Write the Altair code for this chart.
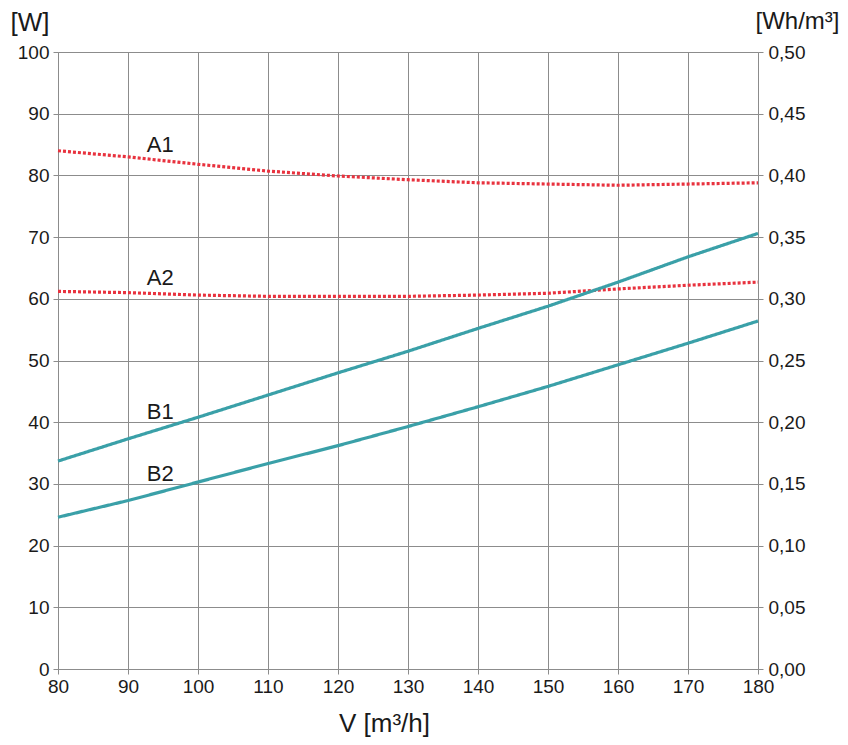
import altair as alt
import pandas as pd

xs = [80, 90, 100, 110, 120, 130, 140, 150, 160, 170, 180]
a1 = [84.0, 83.0, 81.8, 80.7, 79.9, 79.3, 78.8, 78.6, 78.4, 78.6, 78.8]
a2 = [61.2, 61.0, 60.6, 60.4, 60.4, 60.4, 60.6, 60.9, 61.6, 62.2, 62.7]
b1 = [33.7, 37.3, 40.8, 44.4, 48.0, 51.5, 55.2, 58.8, 62.7, 66.8, 70.6]
b2 = [24.6, 27.3, 30.3, 33.3, 36.2, 39.3, 42.5, 45.8, 49.3, 52.8, 56.4]

series_names = ["A1", "A2", "B1", "B2"]
series_vals = [a1, a2, b1, b2]
series_kind = ["A", "A", "B", "B"]

label_x = [94.6, 94.6, 94.6, 94.6]
label_y = [83.8, 62.2, 40.5, 30.5]

rows = []
for name, vals, kind in zip(series_names, series_vals, series_kind):
    for x, y in zip(xs, vals):
        rows.append({"series": name, "kind": kind, "x": x, "y": y})
df = pd.DataFrame(rows)
labels = pd.DataFrame({"series": series_names, "x": label_x, "y": label_y})
right_df = pd.DataFrame({"x": [80, 180], "y2": [0.0, 0.5]})

FONT = "Liberation Sans"
GRID = "#8c8c8c"

xscale = alt.Scale(domain=[80, 180], nice=False, zero=False)
xaxis = alt.Axis(values=xs, title="V [m³/h]", grid=True, gridColor=GRID, gridWidth=1,
                 domainColor=GRID, tickColor=GRID, tickSize=5, labelFont=FONT,
                 labelFontSize=19, labelColor="#1a1a1a", labelPadding=3, labelFlush=False,
                 titleFont=FONT, titleFontSize=26, titleFontWeight="normal",
                 titleColor="#1a1a1a", titleX=326, titleY=62, titleAlign="center",
                 titleBaseline="alphabetic", titleAnchor="start")

left_axis = alt.Axis(values=list(range(0, 101, 10)), title="[W]", grid=True,
                     gridColor=GRID, gridWidth=1, domainColor=GRID, tickColor=GRID,
                     tickSize=5, labelFont=FONT, labelFontSize=19, labelColor="#1a1a1a",
                     labelPadding=4, labelFlush=False, titleFont=FONT, titleFontSize=26,
                     titleFontWeight="normal", titleColor="#1a1a1a", titleAngle=0,
                     titleAlign="left", titleBaseline="top", titleX=-48, titleY=-43,
                     titleAnchor="start")

lines = alt.Chart(df).mark_line(strokeWidth=3.2, strokeCap="butt").encode(
    x=alt.X("x:Q", scale=xscale, axis=xaxis),
    y=alt.Y("y:Q", scale=alt.Scale(domain=[0, 100], nice=False), axis=left_axis),
    color=alt.Color("kind:N", scale=alt.Scale(domain=["A", "B"], range=["#e8323e", "#3aa0a8"]),
                    legend=None),
    strokeDash=alt.StrokeDash("kind:N", scale=alt.Scale(domain=["A", "B"], range=[[3, 2], [1, 0]]),
                              legend=None),
    detail="series:N",
)

texts = alt.Chart(labels).mark_text(font=FONT, fontSize=22, color="#1a1a1a",
                                    align="center", baseline="alphabetic").encode(
    x=alt.X("x:Q", scale=xscale),
    y=alt.Y("y:Q", scale=alt.Scale(domain=[0, 100], nice=False)),
    text="series:N",
)

right_axis = alt.Axis(values=[i / 20 for i in range(11)], orient="right", title="[Wh/m³]",
                      grid=False, domainColor=GRID, tickColor=GRID, tickSize=5,
                      labelFont=FONT, labelFontSize=19, labelColor="#1a1a1a", labelPadding=5,
                      labelFlush=False,
                      labelExpr="replace(format(datum.value, '.2f'), '.', ',')",
                      titleFont=FONT, titleFontSize=24, titleFontWeight="normal",
                      titleColor="#1a1a1a", titleAngle=0, titleAlign="right",
                      titleBaseline="top", titleX=81, titleY=-43, titleAnchor="start")

right = alt.Chart(right_df).mark_point(opacity=0).encode(
    x=alt.X("x:Q", scale=xscale),
    y=alt.Y("y2:Q", scale=alt.Scale(domain=[0, 0.5], nice=False), axis=right_axis),
)

chart = alt.layer(lines + texts, right).resolve_scale(y="independent").properties(
    width=700, height=617,
    autosize=alt.AutoSizeParams(type="none"),
    padding={"left": 50, "top": 44, "right": 82, "bottom": 68},
).configure_view(stroke=None).configure(background="white")

chart.save("out.html", embed_options={"renderer": "svg", "actions": False})
